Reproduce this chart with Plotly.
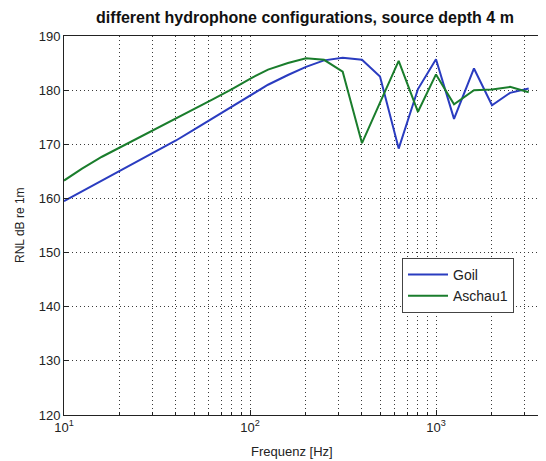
import plotly.graph_objects as go

freq = [10, 12.5, 16, 20, 25, 31.5, 40, 50, 63, 80, 100, 125, 160, 200, 250, 315,
        400, 500, 630, 800, 1000, 1250, 1600, 2000, 2500, 3150]
goil = [159.5, 161.3, 163.3, 165.1, 166.9, 168.7, 170.7, 172.7, 174.8, 176.9, 179.0,
        181.0, 182.8, 184.3, 185.5, 186.0, 185.6, 182.5, 169.2, 180.2, 185.7, 174.7,
        184.0, 177.2, 179.5, 180.3]
aschau1 = [163.3, 165.5, 167.7, 169.4, 171.1, 173.0, 174.8, 176.5, 178.3, 180.2, 182.1,
           183.8, 185.0, 185.9, 185.6, 183.4, 170.2, 177.7, 185.4, 176.0, 182.9, 177.4,
           180.0, 180.1, 180.6, 179.6]

series_names = ["Goil", "Aschau1"]
series_colors = ["#2a3cc0", "#1a7d2c"]

x_major = [10, 100, 1000]
x_major_text = ["10<sup>1</sup>", "10<sup>2</sup>", "10<sup>3</sup>"]
x_minor = [20, 30, 40, 50, 60, 70, 80, 90, 200, 300, 400, 500, 600, 700, 800, 900, 2000, 3000]
y_ticks = [120, 130, 140, 150, 160, 170, 180, 190]

title_text = "different hydrophone configurations, source depth 4 m"
x_label = "Frequenz [Hz]"
y_label = "RNL dB re 1m"

FONT = "Liberation Sans, Arial, sans-serif"

# page body has an 8px margin; figure is sized to fill the rest of the 546x461 window
OFF = 8
W, H = 546 - OFF, 461 - OFF
PL, PR, PT, PB = 64, 546, 36, 415          # plot area in window pixels
L, T = PL - OFF, PT - OFF
B = (461) - PB
pw, ph = PR - PL, PB - PT

fig = go.Figure()
for name, vals, col in zip(series_names, [goil, aschau1], series_colors):
    fig.add_trace(go.Scatter(x=freq, y=vals, mode="lines", name=name,
                             line=dict(color=col, width=2)))

grid_col = "#3a3a3a"
grid_dash = "1px,3px"

fig.update_layout(
    width=W, height=H,
    margin=dict(l=L, r=0, t=T, b=B),
    paper_bgcolor="white", plot_bgcolor="white",
    font=dict(family=FONT, size=12, color="#222"),
    showlegend=True,
    legend=dict(x=(402 - PL) / pw, y=(PB - 258) / ph, xanchor="left", yanchor="top",
                bordercolor="#444", borderwidth=1, bgcolor="white",
                font=dict(family=FONT, size=14, color="#222"),
                tracegroupgap=0, itemwidth=40),
    title=dict(text="<b>" + title_text + "</b>", x=0.5, xref="paper", xanchor="center",
               y=1 - (17 - OFF) / H, yanchor="middle", yref="container",
               font=dict(family=FONT, size=16, color="#111")),
)

fig.update_xaxes(
    type="log", range=[1, 1 + (PR - PL) / 186.0],
    tickmode="array", tickvals=x_major, ticktext=x_major_text,
    ticks="inside", ticklen=5, tickcolor="#222",
    showline=True, linecolor="#222", linewidth=1, mirror=True,
    showgrid=True, gridcolor=grid_col, griddash=grid_dash, gridwidth=1,
    minor=dict(tickmode="array", tickvals=x_minor, ticks="inside", ticklen=3,
               tickcolor="#222", showgrid=True, gridcolor=grid_col, griddash=grid_dash,
               gridwidth=1),
    tickfont=dict(family=FONT, size=13, color="#222"),
    zeroline=False,
)
fig.update_yaxes(
    range=[120, 190], tickmode="array", tickvals=y_ticks,
    ticks="inside", ticklen=5, tickcolor="#222",
    showline=True, linecolor="#222", linewidth=1, mirror=False,
    showgrid=True, gridcolor=grid_col, griddash=grid_dash, gridwidth=1,
    tickfont=dict(family=FONT, size=13, color="#222"),
    zeroline=False,
)

# labels placed by window pixel position, converted to plot-domain paper coordinates
fig.add_annotation(text=x_label, x=(292 - PL) / pw, y=(PB - 451) / ph,
                   xref="paper", yref="paper", showarrow=False,
                   font=dict(family=FONT, size=13, color="#222"),
                   xanchor="center", yanchor="middle")
fig.add_annotation(text=y_label, x=(20 - PL) / pw, y=(PB - 225) / ph,
                   xref="paper", yref="paper", textangle=-90, showarrow=False,
                   font=dict(family=FONT, size=12, color="#222"),
                   xanchor="center", yanchor="middle")

fig.write_html("out.html")
